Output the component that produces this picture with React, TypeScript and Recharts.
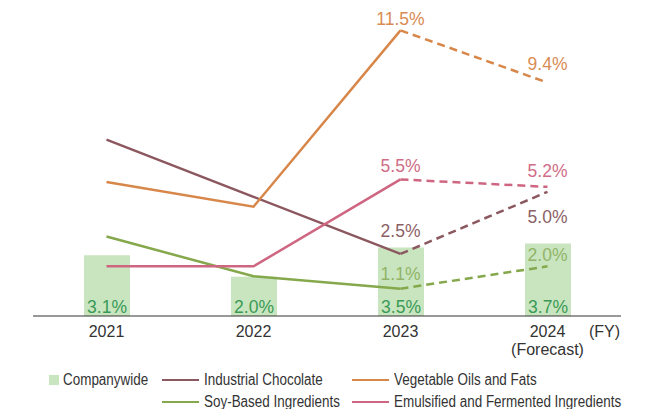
import { Bar, ComposedChart, LabelList, Line, XAxis, YAxis } from "recharts";

const years = ["2021", "2022", "2023", "2024"];
const companywide = [3.1, 2.0, 3.5, 3.7];
const industrialChocolate = [7.1, 4.8, 2.5, 5.0];
const vegetableOils = [5.4, 4.4, 11.5, 9.4];
const soyBased = [3.2, 1.6, 1.1, 2.0];
const emulsified = [2.0, 2.0, 5.5, 5.2];
const forecastFrom = 2; // index where the dashed (forecast) segment starts

const TEXT_FONT = "'Liberation Sans', Arial, sans-serif";

const series = [
  { key: "choc", name: "Industrial Chocolate", values: industrialChocolate, color: "#8c5860", label: "#8c5f66", dy: [-16.7, 31] },
  { key: "veg", name: "Vegetable Oils and Fats", values: vegetableOils, color: "#d8874a", label: "#d98b53", dy: [-5.7, -12.7] },
  { key: "soy", name: "Soy-Based Ingredients", values: soyBased, color: "#84a84b", label: "#93b468", dy: [-8.3, -5] },
  { key: "emul", name: "Emulsified and Fermented Ingredients", values: emulsified, color: "#cf6681", label: "#d06c86", dy: [-7.6, -9.4] },
];

const data = years.map((year, i) => {
  const row: Record<string, any> = { year, companywide: companywide[i] };
  series.forEach((s) => {
    row[s.key] = i <= forecastFrom ? s.values[i] : null;
    row[s.key + "F"] = i >= forecastFrom ? s.values[i] : null;
  });
  return row;
});

const YearTick = (props: any) => {
  const { x, y, payload, index } = props;
  const last = index === years.length - 1;
  return (
    <g fontSize={16} fill="#333" fontFamily={TEXT_FONT}>
      <text x={x} y={y} dy={12.5} textAnchor="middle">
        {payload.value}
      </text>
      {last && (
        <>
          <text x={x} y={y} dy={30.5} textAnchor="middle">
            (Forecast)
          </text>
          <text x={x + 41.5} y={y} dy={12.5} textAnchor="start">
            (FY)
          </text>
        </>
      )}
    </g>
  );
};

const makeLineLabel = (color: string, dy: number[]) => (props: any) => {
  const { x, y, value, index } = props;
  if (value == null) return null;
  const off = dy[index - forecastFrom] ?? -8;
  return (
    <text x={x} y={y + off} textAnchor="middle" fontSize={17.5} fill={color} fontFamily={TEXT_FONT}>
      {Number(value).toFixed(1)}%
    </text>
  );
};

const BarLabel = (props: any) => {
  const { x, y, width, height, value } = props;
  return (
    <text x={x + width / 2} y={y + height - 2.7} textAnchor="middle" fontSize={17.5} fill="#3a9a55" fontFamily={TEXT_FONT}>
      {Number(value).toFixed(1)}%
    </text>
  );
};

const legendItems = [
  { name: "Companywide", color: "#c8e5c0", square: true, left: 41, top: 372 },
  { name: series[0].name, color: series[0].color, left: 154, top: 372 },
  { name: series[1].name, color: series[1].color, left: 344, top: 372 },
  { name: series[2].name, color: series[2].color, left: 154, top: 394 },
  { name: series[3].name, color: series[3].color, left: 344, top: 394 },
];

// no narrow font installed, so squeeze the legend text horizontally
const ChartLegend = () => (
  <>
    {legendItems.map((item) => (
      <div
        key={item.name}
        style={{
          position: "absolute",
          left: item.left,
          top: item.top - 10,
          height: 20,
          display: "flex",
          alignItems: "center",
          whiteSpace: "nowrap",
          fontFamily: TEXT_FONT,
          fontSize: 16,
          color: "#333",
        }}
      >
        {item.square ? (
          <span style={{ width: 10, height: 10, background: item.color, marginRight: 4 }} />
        ) : (
          <span style={{ width: 37, height: 2.5, background: item.color, marginRight: 5 }} />
        )}
        <span style={{ display: "inline-block", transform: "scaleX(0.84)", transformOrigin: "left center" }}>
          {item.name}
        </span>
      </div>
    ))}
  </>
);

export default function App() {
  return (
    <div style={{ position: "relative", width: 630, height: 401 }}>
      <ComposedChart width={630} height={352} data={data} margin={{ top: 10, right: 17, left: 25, bottom: 0 }}>
        <XAxis
          dataKey="year"
          height={44}
          tickLine={false}
          axisLine={{ stroke: "#333", strokeWidth: 1 }}
          tick={<YearTick />}
          interval={0}
        />
        <YAxis yAxisId="bar" hide domain={[0, 15.2]} />
        <YAxis yAxisId="line" hide domain={[0, 12]} />
        <Bar yAxisId="bar" dataKey="companywide" name="Companywide" fill="#c8e5c0" barSize={46} isAnimationActive={false}>
          <LabelList dataKey="companywide" content={<BarLabel />} />
        </Bar>
        {series.map((s) => (
          <Line
            key={s.key}
            yAxisId="line"
            dataKey={s.key}
            name={s.name}
            stroke={s.color}
            strokeWidth={2.5}
            dot={false}
            activeDot={false}
            isAnimationActive={false}
          />
        ))}
        {series.map((s) => (
          <Line
            key={s.key + "F"}
            yAxisId="line"
            dataKey={s.key + "F"}
            name={s.name + " (Forecast)"}
            stroke={s.color}
            strokeWidth={2.5}
            strokeDasharray="8 5"
            dot={false}
            activeDot={false}
            isAnimationActive={false}
          >
            <LabelList dataKey={s.key + "F"} content={makeLineLabel(s.label, s.dy)} />
          </Line>
        ))}
      </ComposedChart>
      <ChartLegend />
    </div>
  );
}
